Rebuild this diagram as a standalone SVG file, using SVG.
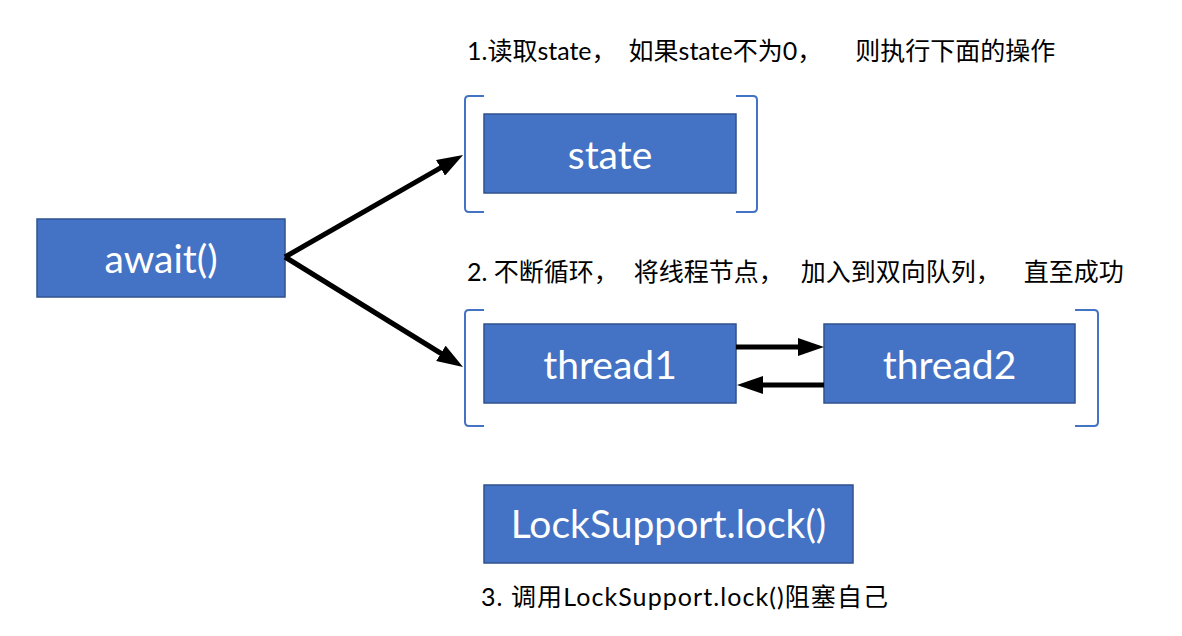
<svg xmlns="http://www.w3.org/2000/svg" width="1182" height="636" viewBox="0 0 1182 636">
<style>
.box{fill:#4472C4;stroke:#2F528F;stroke-width:1.5}
.bt{fill:#ffffff;font-family:Lato,"Noto Sans",sans-serif;font-size:39px;text-anchor:middle}
.lbl{fill:#000000;font-family:Lato,"Noto Sans CJK SC",sans-serif;font-size:25px}
.br{fill:none;stroke:#4472C4;stroke-width:2}
.con{stroke:#000000;stroke-width:5;fill:none}
</style>
<defs>
<marker id="ah" viewBox="0 0 26 18" refX="6" refY="9" markerWidth="26" markerHeight="18" markerUnits="userSpaceOnUse" orient="auto">
<path d="M0,0 L26,9 L0,18 z" fill="#000000"/>
</marker>
</defs>
<rect width="1182" height="636" fill="#ffffff"/>
<g id="label1"><text class="lbl" x="467" y="60">1.读取state，<tspan dx="12">如果state不为0，</tspan><tspan dx="33">则执行下面的操作</tspan></text></g>
<g id="label2"><text class="lbl" x="467" y="281">2. 不断循环，<tspan dx="15">将线程节点，</tspan><tspan dx="17">加入到双向队列，</tspan><tspan dx="23">直至成功</tspan></text></g>
<g id="label3"><text class="lbl" x="481" y="606" textLength="407" lengthAdjust="spacing">3. 调用LockSupport.lock()阻塞自己</text></g>
<g id="bracket-state">
<path class="br" d="M484,96 L469,96 Q465,96 465,100 L465,208 Q465,212 469,212 L484,212"/>
<path class="br" d="M736,96 L753,96 Q757,96 757,100 L757,208 Q757,212 753,212 L736,212"/>
</g>
<g id="bracket-queue">
<path class="br" d="M484,310 L469,310 Q465,310 465,314 L465,422 Q465,426 469,426 L484,426"/>
<path class="br" d="M1075,310 L1094,310 Q1098,310 1098,314 L1098,422 Q1098,426 1094,426 L1075,426"/>
</g>
<g id="await"><rect class="box" x="37" y="219" width="248" height="78"/><text class="bt" x="161" y="273">await()</text></g>
<g id="state"><rect class="box" x="484" y="114" width="252" height="79"/><text class="bt" x="610" y="169">state</text></g>
<g id="thread1"><rect class="box" x="484" y="324" width="252" height="79"/><text class="bt" x="610" y="379">thread1</text></g>
<g id="thread2"><rect class="box" x="824" y="324" width="251" height="79"/><text class="bt" x="949.5" y="379">thread2</text></g>
<g id="locksupport"><rect class="box" x="484" y="485" width="369" height="78"/><text class="bt" x="668.5" y="538">LockSupport.lock()</text></g>
<g id="connectors">
<line class="con" x1="285" y1="257" x2="445.7" y2="164.9" marker-end="url(#ah)"/>
<line class="con" x1="285" y1="257" x2="446" y2="356.5" marker-end="url(#ah)"/>
<line class="con" x1="736" y1="347" x2="804" y2="347" marker-end="url(#ah)"/>
<line class="con" x1="824" y1="385" x2="757" y2="385" marker-end="url(#ah)"/>
</g>
</svg>
